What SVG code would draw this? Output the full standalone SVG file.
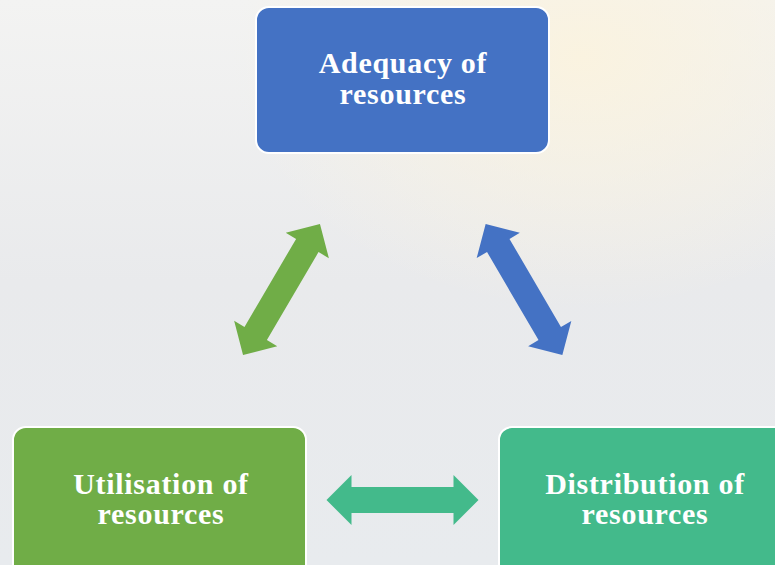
<svg xmlns="http://www.w3.org/2000/svg" width="775" height="565" viewBox="0 0 775 565">
  <defs>
    <linearGradient id="bg" x1="0" y1="0" x2="0" y2="1">
      <stop offset="0" stop-color="#F3F3F2"/>
      <stop offset="0.5" stop-color="#E9EAEC"/>
      <stop offset="1" stop-color="#E8EBEE"/>
    </linearGradient>
    <radialGradient id="warm" cx="0.75" cy="0.1" r="0.45">
      <stop offset="0" stop-color="#FBF3DE" stop-opacity="0.9"/>
      <stop offset="1" stop-color="#FBF3DE" stop-opacity="0"/>
    </radialGradient>
    <path id="dbl" d="M -76 0 L -51 -25 L -51 -13 L 51 -13 L 51 -25 L 76 0 L 51 25 L 51 13 L -51 13 L -51 25 Z"/>
  </defs>
  <style>
    .box { stroke: #FFFFFF; stroke-width: 2; }
    .lbl { font-family: "Liberation Serif", "Times New Roman", serif; font-weight: bold; font-size: 30px; letter-spacing: 0.7px; fill: #FFFFFF; text-anchor: middle; }
  </style>
  <rect width="775" height="565" fill="url(#bg)"/>
  <rect width="775" height="565" fill="url(#warm)"/>

  <g id="connectors">
    <use href="#dbl" fill="#70AD47" transform="translate(281.5 289.5) rotate(-59.6)"/>
    <use href="#dbl" fill="#4472C4" transform="translate(524 289.5) rotate(59.7)"/>
    <use href="#dbl" fill="#43BA8B" transform="translate(402.5 500)"/>
  </g>

  <g id="adequacy">
    <rect class="box" x="256" y="7" width="293" height="146" rx="13" fill="#4472C4"/>
    <text class="lbl" x="403" y="73">Adequacy of</text>
    <text class="lbl" x="403" y="104">resources</text>
  </g>

  <g id="utilisation">
    <rect class="box" x="13" y="427" width="293" height="160" rx="13" fill="#70AD47"/>
    <text class="lbl" x="161" y="494">Utilisation of</text>
    <text class="lbl" x="161" y="524">resources</text>
  </g>

  <g id="distribution">
    <rect class="box" x="499" y="427" width="293" height="160" rx="13" fill="#43BA8B"/>
    <text class="lbl" x="645" y="494">Distribution of</text>
    <text class="lbl" x="645" y="524">resources</text>
  </g>
</svg>
